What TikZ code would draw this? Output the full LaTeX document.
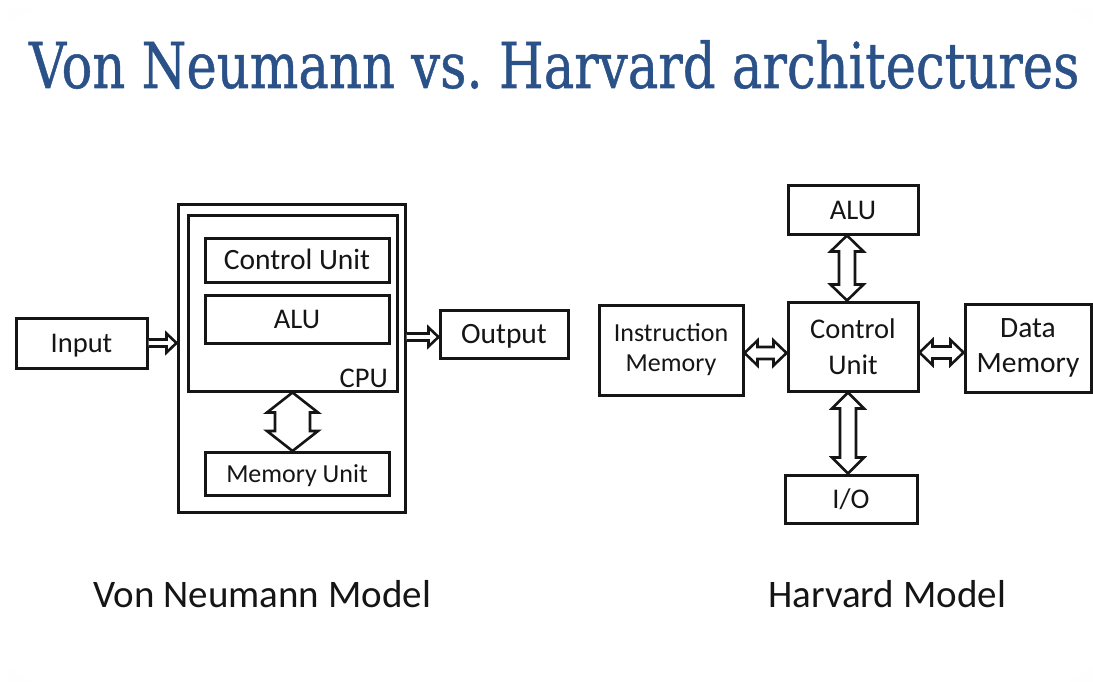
\documentclass[tikz,border=0pt]{standalone}
\usepackage{fontspec}
\setmainfont{Carlito}
\newfontfamily\titlefont[FakeBold=0.8]{DejaVu Serif}
\usetikzlibrary{calc}

\definecolor{titleblue}{HTML}{2B5189}
\definecolor{ink}{HTML}{151515}

% soft slide background: white centre fading to light grey at the corners
\pgfdeclareradialshading{slideshade}{\pgfpoint{0bp}{0bp}}{%
  color(0bp)=(white); color(34bp)=(white); color(72bp)=(black!14)}

% outlined block arrows, built from the anchors of the boxes they join
% #3 half shaft width, #4 half head width, #5 head length
\newcommand\blockRight[5]{%
  \draw[arrowln] let \p1=(#1), \p2=(#2) in
    (\x1,\y1+#3pt) -- (\x2-#5pt,\y1+#3pt) -- (\x2-#5pt,\y1+#4pt) -- (\x2,\y1)
    -- (\x2-#5pt,\y1-#4pt) -- (\x2-#5pt,\y1-#3pt) -- (\x1,\y1-#3pt);}
\newcommand\blockUpDown[5]{%
  \draw[arrowln] let \p1=(#1), \p2=(#2) in
    (\x1,\y1) -- (\x1+#4pt,\y1-#5pt) -- (\x1+#3pt,\y1-#5pt) -- (\x1+#3pt,\y2+#5pt)
    -- (\x1+#4pt,\y2+#5pt) -- (\x1,\y2) -- (\x1-#4pt,\y2+#5pt) -- (\x1-#3pt,\y2+#5pt)
    -- (\x1-#3pt,\y1-#5pt) -- (\x1-#4pt,\y1-#5pt) -- cycle;}
\newcommand\blockLeftRight[5]{%
  \draw[arrowln] let \p1=(#1), \p2=(#2) in
    (\x1,\y1) -- (\x1+#5pt,\y1+#4pt) -- (\x1+#5pt,\y1+#3pt) -- (\x2-#5pt,\y1+#3pt)
    -- (\x2-#5pt,\y1+#4pt) -- (\x2,\y1) -- (\x2-#5pt,\y1-#4pt) -- (\x2-#5pt,\y1-#3pt)
    -- (\x1+#5pt,\y1-#3pt) -- (\x1+#5pt,\y1-#4pt) -- cycle;}

\begin{document}
\begin{tikzpicture}[x=1pt,y=-1pt,
  box/.style={draw=ink, line width=3pt, fill=white, inner sep=0pt, text=ink,
              align=center},
  f26/.style={font=\fontsize{26}{30}\selectfont},
  f28/.style={font=\fontsize{28.5}{36}\selectfont},
  f29/.style={font=\fontsize{29.5}{35}\selectfont},
  one26/.style={f26, text height=16.7pt, text depth=0pt},
  one28/.style={f28, text height=18.4pt, text depth=0pt},
  one29/.style={f29, text height=19pt, text depth=0pt},
  arrowln/.style={draw=ink, line width=2.6pt, fill=white, line join=miter},
  caption/.style={font=\fontsize{39}{44}\selectfont, text=ink, inner sep=0pt, anchor=base west},
]
\useasboundingbox (0,0) rectangle (1093,682);
\fill[white] (0,0) rectangle (1093,682);
\shade[shading=slideshade] (8,8) rectangle (1093,682);

% title
\node[inner sep=0pt, anchor=base west, text=titleblue] (title) at (29,88)
  {\resizebox{1050pt}{48pt}{\titlefont\frenchspacing Von Neumann vs. Harvard architectures}};

% ---------- Von Neumann model ----------
\node[box, minimum width=227, minimum height=307] (vnOuter) at (291.5,358.5) {};
\node[box, minimum width=209, minimum height=176] (vnCPU) at (292.5,303) {};
\node[box, one29, minimum width=184, minimum height=44] (vnCU) at (297,260) {Control Unit};
\node[box, one28, minimum width=184, minimum height=48] (vnALU) at (297,319) {ALU};
\node[f28, text=ink, inner sep=0pt, anchor=base east] (vnCPUlbl) at (388,387) {CPU};
\node[box, one26, minimum width=184, minimum height=43] (vnMem) at (297,474) {Memory Unit};
\node[box, one28, minimum width=131, minimum height=50] (vnIn) at (81.5,343) {Input};
\node[box, one29, minimum width=128, minimum height=48] (vnOut) at (504,334) {Output};

\blockRight{vnIn.east}{vnOuter.west}{3.5}{9.5}{10}
\blockRight{$(vnOuter.east |- vnOut.west)+(0,3)$}{vnOut.west}{3.5}{9.5}{10}
\blockUpDown{vnCPU.south}{vnMem.north}{17.5}{25.5}{20}

\node[caption] (vnCap) at (93,607) {Von Neumann Model};

% ---------- Harvard model ----------
\node[box, one28, minimum width=130, minimum height=48] (hALU) at (853,210) {ALU};
\node[box, f28, minimum width=130, minimum height=89] (hCU) at (853,346.5) {Control\\Unit};
\node[box, f26, minimum width=144, minimum height=90] (hIM) at (671,350) {Instruction\\Memory};
\node[box, f29, minimum width=126, minimum height=88] (hDM) at (1028,348) {Data\\Memory};
\node[box, one28, minimum width=132, minimum height=48] (hIO) at (851,499) {I/O};

\blockUpDown{$(hALU.south)+(-6,0)$}{hCU.north}{8}{16.5}{16}
\blockUpDown{$(hCU.south)+(-5,0)$}{hIO.north}{8}{16}{16}
\blockLeftRight{$(hIM.east)+(0,3)$}{hCU.west}{6}{12.5}{13}
\blockLeftRight{$(hCU.east)+(0,6)$}{hDM.west}{6}{12.5}{13}

\node[caption] (hCap) at (768,607) {Harvard Model};
\end{tikzpicture}
\end{document}
